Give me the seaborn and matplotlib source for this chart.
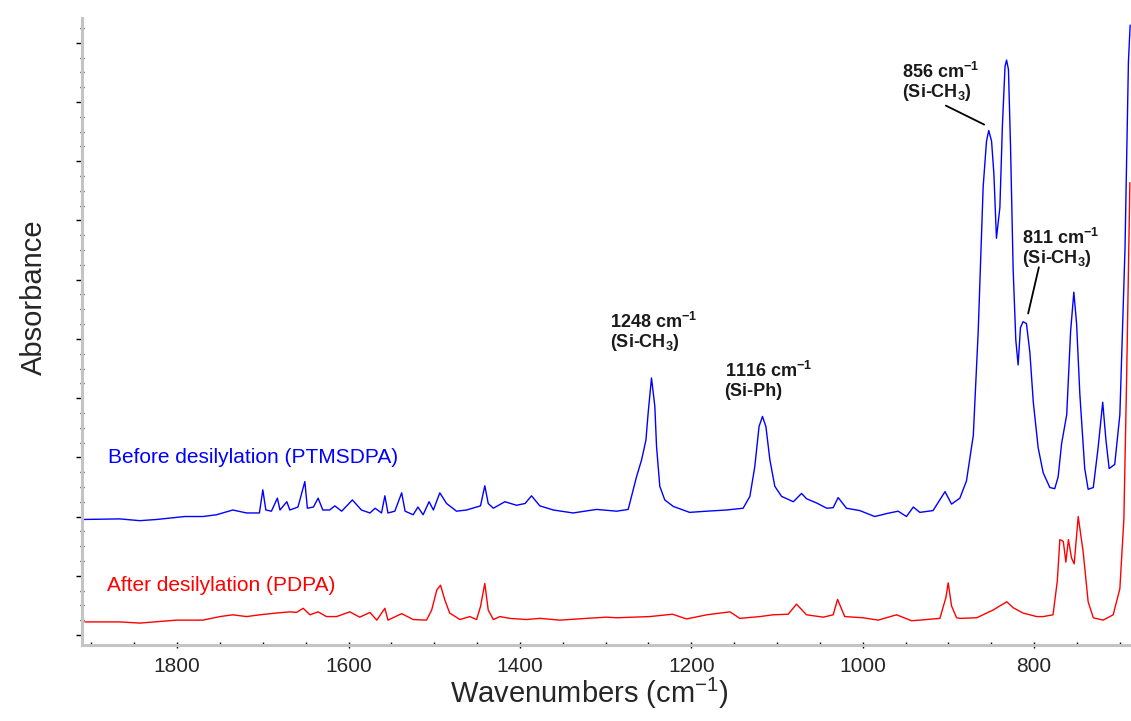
"""
FTIR spectra of PTMSDPA before and after desilylation.
Redraws the absorbance traces with seaborn and labels the Si-CH3 / Si-Ph bands.
"""

import matplotlib
matplotlib.use("Agg")
import matplotlib.pyplot as plt
import seaborn as sns
import pandas as pd
from matplotlib.ticker import MultipleLocator, NullFormatter

# Spectrum before desilylation (wavenumber in cm-1, absorbance a.u.)
before_wn = [1910, 1867, 1843.5, 1824, 1791, 1770, 1754, 1735, 1719, 1704, 1700, 1696.5,
             1690, 1683, 1680, 1672, 1668.5, 1659, 1651, 1648, 1641, 1635.5, 1630, 1622,
             1616, 1608, 1595.5, 1585, 1575, 1569, 1561.5, 1557.6, 1554, 1546, 1538, 1534,
             1524.6, 1519, 1513, 1506, 1501, 1493.5, 1485.6, 1474, 1462.3, 1450.6, 1446,
             1441, 1437, 1431, 1417.6, 1404, 1394, 1386.5, 1376.8, 1361, 1338, 1310.6,
             1287, 1273.7, 1264, 1258, 1253, 1250.4, 1246.5, 1242.6, 1240.6, 1236.8, 1231,
             1221, 1202, 1182.3, 1159, 1139.6, 1131.7, 1126, 1121, 1117, 1113, 1108.4,
             1102.6, 1094.7, 1081, 1071.4, 1065.6, 1054, 1042, 1034.5, 1028.7, 1019, 1003.4,
             986, 972, 958.7, 949, 941, 933.4, 918, 904, 896.4, 886.7, 879, 871, 865.3,
             859.5, 855.6, 853, 849.7, 847, 844, 840, 837, 834, 832.2, 830, 827.6, 824.5,
             821.4, 818.7, 816, 813, 809, 805, 801, 795.3, 789.5, 781.7, 776, 772, 768, 762,
             757.5, 753.7, 750.5, 746.7, 741, 737, 731, 725.4, 720, 716.3, 712.5, 706, 700,
             694, 690, 688]
before_abs = [0.195, 0.196, 0.193, 0.195, 0.200, 0.200, 0.203, 0.211, 0.206, 0.206, 0.245, 0.211,
              0.209, 0.231, 0.211, 0.225, 0.211, 0.216, 0.259, 0.214, 0.216, 0.231, 0.211, 0.211,
              0.218, 0.209, 0.228, 0.211, 0.206, 0.214, 0.206, 0.235, 0.206, 0.209, 0.240, 0.209,
              0.203, 0.216, 0.203, 0.225, 0.211, 0.240, 0.222, 0.209, 0.211, 0.216, 0.218,
              0.252, 0.222, 0.214, 0.225, 0.219, 0.222, 0.235, 0.218, 0.211, 0.206, 0.212,
              0.209, 0.212, 0.267, 0.296, 0.329, 0.375, 0.434, 0.386, 0.318, 0.251, 0.228,
              0.217, 0.207, 0.209, 0.211, 0.214, 0.234, 0.284, 0.352, 0.369, 0.352, 0.296,
              0.251, 0.234, 0.225, 0.239, 0.230, 0.223, 0.214, 0.215, 0.232, 0.214, 0.210,
              0.200, 0.205, 0.209, 0.200, 0.216, 0.207, 0.210, 0.242, 0.221, 0.231, 0.260, 0.337, 0.512,
              0.757, 0.834, 0.852, 0.834, 0.779, 0.670, 0.722, 0.862, 0.960, 0.971, 0.955, 0.827, 0.617,
              0.498, 0.456, 0.519, 0.529, 0.526, 0.477, 0.393, 0.316, 0.274, 0.249, 0.247, 0.267, 0.323, 0.372,
              0.512, 0.579, 0.526, 0.407, 0.281, 0.246, 0.249, 0.316, 0.393, 0.330, 0.281, 0.288, 0.372,
              0.652, 0.968, 1.030]

# Spectrum after desilylation
after_wn = [1907.6, 1867, 1843.5, 1800.7, 1770, 1750, 1735, 1719, 1703.5, 1684, 1668.5, 1660.7,
            1653, 1645, 1635.5, 1625.7, 1614, 1598.5, 1587, 1575, 1567, 1557.6, 1554, 1538,
            1524.6, 1509, 1503, 1497, 1492.7, 1487.6, 1482, 1470, 1458.5, 1450.6, 1446, 1441,
            1437, 1431, 1423.4, 1412, 1392.3, 1376.8, 1353.4, 1322, 1299, 1287, 1248.5, 1222,
            1205.6, 1182, 1155, 1143.4, 1120, 1104.6, 1087, 1077.3, 1065.6, 1046, 1034.5, 1029.4,
            1021, 999.5, 982, 960.6, 943, 933.4, 910, 903, 900.3, 896.4, 890.5, 886.7, 867, 848,
            832, 824.5, 813, 797, 789.5, 778, 773, 770, 766, 763, 760, 756.4, 753.3, 748.6,
            742.8, 737, 731, 719.5, 707.8, 700, 695.3, 692, 688.3]
after_abs = [0.022, 0.022, 0.020, 0.025, 0.025, 0.031, 0.034, 0.031, 0.034, 0.037, 0.039, 0.038,
             0.045, 0.034, 0.039, 0.031, 0.031, 0.039, 0.030, 0.038, 0.025, 0.045, 0.025, 0.036,
             0.026, 0.025, 0.042, 0.076, 0.084, 0.059, 0.037, 0.026, 0.031, 0.026, 0.048, 0.087,
             0.042, 0.026, 0.031, 0.028, 0.026, 0.028, 0.025, 0.028, 0.030, 0.029, 0.031, 0.035,
             0.027, 0.034, 0.039, 0.028, 0.031, 0.034, 0.035, 0.052, 0.034, 0.030, 0.034, 0.060,
             0.031, 0.029, 0.025, 0.034, 0.024, 0.025, 0.028, 0.063, 0.088, 0.049, 0.029, 0.028, 0.029, 0.042,
             0.056, 0.046, 0.037, 0.031, 0.031, 0.034, 0.091, 0.161, 0.158, 0.123, 0.161, 0.130, 0.120, 0.200,
             0.140, 0.056, 0.029, 0.025, 0.034, 0.078, 0.196, 0.442, 0.764]

series_names = ["Before desilylation (PTMSDPA)", "After desilylation (PDPA)"]
series_colors = ["#0000ff", "#ff0000"]

peak_positions = ["1248", "1116", "856", "811"]
peak_groups = ["Si-CH$_{\\mathbf{3}}$", "Si-Ph", "Si-CH$_{\\mathbf{3}}$", "Si-CH$_{\\mathbf{3}}$"]

sns.set_style("white")
plt.rcParams["font.family"] = ["Liberation Sans", "DejaVu Sans"]
plt.rcParams["mathtext.fontset"] = "custom"
plt.rcParams["mathtext.rm"] = "Liberation Sans"
plt.rcParams["mathtext.bf"] = "Liberation Sans:bold"

df = pd.concat([
    pd.DataFrame({"wn": before_wn, "abs": before_abs, "series": series_names[0]}),
    pd.DataFrame({"wn": after_wn, "abs": after_abs, "series": series_names[1]}),
])

fig = plt.figure(figsize=(11.31, 7.21), dpi=100)
ax = fig.add_axes([82 / 1131, 1 - 645 / 721, (1131 - 82) / 1131, (645 - 18) / 721])

sns.lineplot(data=df, x="wn", y="abs", hue="series", palette=dict(zip(series_names, series_colors)),
             estimator=None, errorbar=None, linewidth=1.0, legend=False, ax=ax)

ax.set_xlim(1911, 687)
ax.set_ylim(-0.017, 1.042)

# axes styling: light grey spines, small black ticks, no y labels
for side in ["top", "right"]:
    ax.spines[side].set_visible(False)
for side in ["left", "bottom"]:
    ax.spines[side].set_color("#c4c4c4")
    ax.spines[side].set_linewidth(2.2)

ax.xaxis.set_major_locator(MultipleLocator(200))
ax.xaxis.set_minor_locator(MultipleLocator(50))
ax.yaxis.set_major_locator(MultipleLocator(0.1))
ax.yaxis.set_minor_locator(MultipleLocator(0.025))
ax.yaxis.set_major_formatter(NullFormatter())

ax.tick_params(axis="x", which="major", direction="inout", length=5, width=1, color="black",
               labelsize=15, pad=6, bottom=True)
ax.tick_params(axis="x", which="minor", direction="in", length=2.5, width=1, color="black", bottom=True)
ax.tick_params(axis="y", which="major", direction="out", length=4, width=1, color="black", left=True)
ax.tick_params(axis="y", which="minor", direction="inout", length=2.5, width=1, color="black", left=True)

ax.set_xlabel("Wavenumbers (cm$^{-1}$)", fontsize=21)
ax.set_ylabel("Absorbance", fontsize=21)
ax.xaxis.set_label_coords(0.484, -0.049)
ax.xaxis.label.set_va("top")
ax.yaxis.set_label_coords(-0.032, 0.555)

# series names
ax.text(1880.5, 0.299, series_names[0], color=series_colors[0], fontsize=15, va="center")
ax.text(1882.4, 0.083, series_names[1], color=series_colors[1], fontsize=15, va="center")

# peak labels (two lines each)
label_xy = [(1295.4, 0.519, 0.486), (1161.3, 0.436, 0.404), (954.7, 0.941, 0.909), (814.7, 0.660, 0.628)]
for pos, grp, (lx, y1, y2) in zip(peak_positions, peak_groups, label_xy):
    ax.text(lx, y1, pos + " cm$^{\\mathbf{-1}}$", fontsize=13, fontweight="bold", color="#1a1a1a")
    ax.text(lx, y2, "(" + grp + ")", fontsize=13, fontweight="bold", color="#1a1a1a")

ax.plot([903, 858.3], [0.894, 0.862], color="black", lw=1.3)
ax.plot([794.5, 807], [0.621, 0.543], color="black", lw=1.3)

fig.savefig("out.png", dpi=100)
plt.close(fig)
